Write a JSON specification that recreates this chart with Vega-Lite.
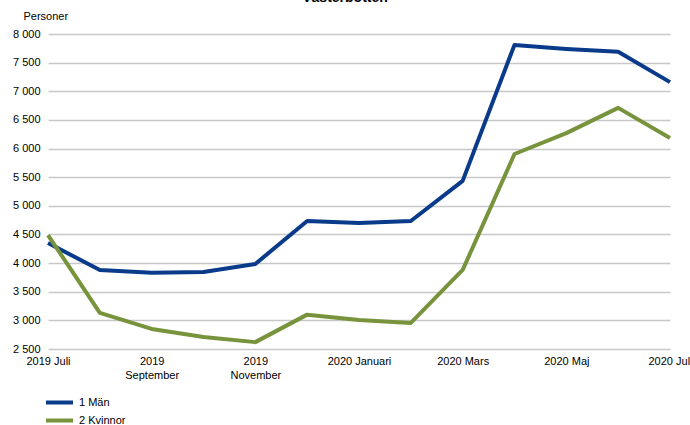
{
  "$schema": "https://vega.github.io/schema/vega-lite/v6.json",
  "width": 622,
  "height": 315,
  "autosize": "none",
  "padding": {"left": 48, "top": 34, "right": 20, "bottom": 76},
  "title": {"text": "Västerbotten", "anchor": "middle", "dx": -14, "offset": 5, "font": "Liberation Sans", "fontSize": 14, "fontWeight": "bold", "color": "#000000"},
  "config": {
    "font": "Liberation Sans",
    "view": {"stroke": null},
    "axis": {"labelFont": "Liberation Sans", "labelFontSize": 11, "labelColor": "#000000", "titleFont": "Liberation Sans", "titleFontSize": 11, "titleFontWeight": "normal", "titleColor": "#000000"}
  },
  "data": {"values": [
    {"month": "2019 Juli", "kon": "1 Män", "personer": 4350},
    {"month": "2019 Augusti", "kon": "1 Män", "personer": 3880},
    {"month": "2019 September", "kon": "1 Män", "personer": 3830},
    {"month": "2019 Oktober", "kon": "1 Män", "personer": 3845},
    {"month": "2019 November", "kon": "1 Män", "personer": 3985},
    {"month": "2019 December", "kon": "1 Män", "personer": 4735},
    {"month": "2020 Januari", "kon": "1 Män", "personer": 4700},
    {"month": "2020 Februari", "kon": "1 Män", "personer": 4735},
    {"month": "2020 Mars", "kon": "1 Män", "personer": 5435},
    {"month": "2020 April", "kon": "1 Män", "personer": 7810},
    {"month": "2020 Maj", "kon": "1 Män", "personer": 7740},
    {"month": "2020 Juni", "kon": "1 Män", "personer": 7690},
    {"month": "2020 Juli", "kon": "1 Män", "personer": 7160},
    {"month": "2019 Juli", "kon": "2 Kvinnor", "personer": 4490},
    {"month": "2019 Augusti", "kon": "2 Kvinnor", "personer": 3130},
    {"month": "2019 September", "kon": "2 Kvinnor", "personer": 2850},
    {"month": "2019 Oktober", "kon": "2 Kvinnor", "personer": 2710},
    {"month": "2019 November", "kon": "2 Kvinnor", "personer": 2620},
    {"month": "2019 December", "kon": "2 Kvinnor", "personer": 3100},
    {"month": "2020 Januari", "kon": "2 Kvinnor", "personer": 3005},
    {"month": "2020 Februari", "kon": "2 Kvinnor", "personer": 2955},
    {"month": "2020 Mars", "kon": "2 Kvinnor", "personer": 3880},
    {"month": "2020 April", "kon": "2 Kvinnor", "personer": 5905},
    {"month": "2020 Maj", "kon": "2 Kvinnor", "personer": 6270},
    {"month": "2020 Juni", "kon": "2 Kvinnor", "personer": 6710},
    {"month": "2020 Juli", "kon": "2 Kvinnor", "personer": 6185}
  ]},
  "mark": {"type": "line", "strokeWidth": 4, "strokeJoin": "round"},
  "encoding": {
    "x": {
      "field": "month", "type": "ordinal", "sort": null,
      "scale": {"type": "point", "padding": 0},
      "axis": {
        "title": null, "labelAngle": 0, "ticks": false, "domain": false, "grid": false,
        "labelPadding": 6, "labelOverlap": false, "labelBound": false, "labelFlush": false,
        "values": ["2019 Juli", "2019 September", "2019 November", "2020 Januari", "2020 Mars", "2020 Maj", "2020 Juli"],
        "labelExpr": "indexof(datum.value, 'September') > 0 || indexof(datum.value, 'November') > 0 ? split(datum.value, ' ') : datum.value",
        "labelLineHeight": 14
      }
    },
    "y": {
      "field": "personer", "type": "quantitative",
      "scale": {"domain": [2500, 8000], "nice": false, "zero": false},
      "axis": {
        "title": "Personer", "titleAngle": 0, "titleAlign": "left", "titleBaseline": "middle",
        "titleX": -25, "titleY": -18,
        "values": [2500, 3000, 3500, 4000, 4500, 5000, 5500, 6000, 6500, 7000, 7500, 8000],
        "labelExpr": "replace(format(datum.value, ','), ',', ' ')",
        "ticks": false, "domain": false, "labelPadding": 8,
        "grid": true, "gridColor": "#c8c8c8", "gridWidth": 1.5
      }
    },
    "color": {
      "field": "kon", "type": "nominal",
      "scale": {"domain": ["1 Män", "2 Kvinnor"], "range": ["#0a3a8a", "#77933c"]},
      "legend": {
        "title": null, "orient": "none", "legendX": 2, "legendY": 359, "direction": "vertical",
        "padding": 0,
        "symbolType": "M-1.8,0H1.8", "symbolSize": 225, "symbolStrokeWidth": 4,
        "labelFont": "Liberation Sans", "labelFontSize": 11, "labelColor": "#000000",
        "rowPadding": 0, "labelOffset": 10
      }
    }
  }
}
